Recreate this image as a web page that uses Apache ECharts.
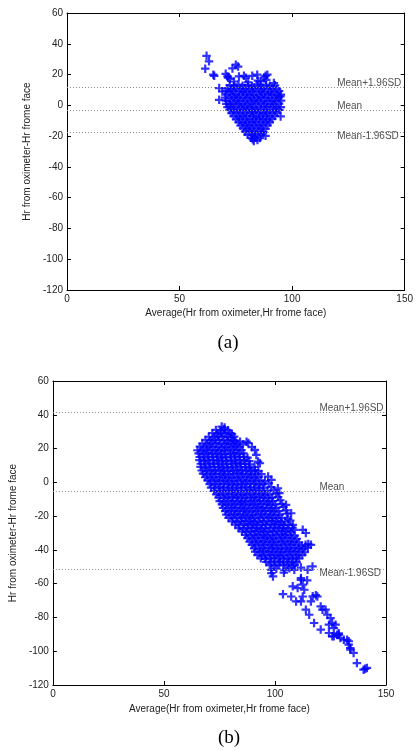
<!DOCTYPE html>
<html>
<head>
<meta charset="utf-8">
<script src="https://cdn.jsdelivr.net/npm/echarts@6/dist/echarts.min.js"></script>
<style>
  html, body { margin: 0; padding: 0; background: #fff; }
  #main { width: 416px; height: 751px; }
</style>
</head>
<body>
<div id="main"></div>
<script>
// (a) dense heart-shaped cluster
const blobA = [
  [72.3,13.2],[74.1,12.6],[76.2,13.5],[78.0,12.8],[80.3,13.1],[82.1,12.4],[84.2,13.6],[86.0,12.9],[88.3,13.3],[90.1,12.7],[92.4,13.0],
  [71.2,11.1],[73.0,10.6],[75.1,11.4],[77.3,10.8],[79.0,11.2],[81.2,10.5],[83.1,11.3],[85.3,10.9],[87.0,11.5],[89.2,10.7],[91.1,11.0],[93.3,10.6],
  [70.4,9.2],[72.2,8.7],[74.0,9.4],[76.3,8.9],[78.1,9.1],[80.0,8.6],[82.3,9.3],[84.1,8.8],[86.2,9.4],[88.0,8.7],[90.3,9.0],[92.1,8.6],[94.2,9.2],
  [71.0,7.1],[73.2,6.6],[75.0,7.3],[77.1,6.8],[79.3,7.2],[81.1,6.5],[83.0,7.0],[85.2,6.7],[87.1,7.4],[89.3,6.9],[91.0,7.1],[93.2,6.6],[95.0,7.0],
  [70.2,5.0],[72.1,4.6],[74.3,5.3],[76.0,4.8],[78.2,5.2],[80.1,4.5],[82.0,5.1],[84.3,4.7],[86.1,5.4],[88.2,4.9],[90.0,5.0],[92.3,4.6],[94.1,5.2],
  [70.6,3.1],[73.0,2.7],[75.2,3.3],[77.0,2.8],[79.1,3.0],[81.3,2.6],[83.2,3.4],[85.0,2.9],[87.3,3.1],[89.1,2.7],[91.2,3.2],[93.0,2.8],[95.1,3.0],
  [70.8,1.0],[72.3,0.6],[74.1,1.3],[76.2,0.8],[78.0,1.1],[80.2,0.5],[82.1,1.2],[84.0,0.7],[86.2,1.4],[88.1,0.9],[90.3,1.0],[92.0,0.6],[94.2,1.1],
  [71.3,-1.1],[73.1,-1.5],[75.0,-0.8],[77.2,-1.3],[79.0,-0.9],[81.2,-1.6],[83.0,-1.0],[85.1,-1.4],[87.3,-0.7],[89.0,-1.2],[91.2,-1.0],[93.1,-1.5],[95.0,-1.1],
  [72.2,-3.0],[74.0,-3.4],[76.1,-2.8],[78.3,-3.2],[80.0,-2.9],[82.2,-3.5],[84.1,-3.1],[86.0,-2.7],[88.2,-3.3],[90.1,-2.9],[92.3,-3.4],[94.4,-3.0],
  [73.1,-5.1],[75.2,-4.7],[77.0,-5.3],[79.1,-4.9],[81.3,-5.2],[83.0,-4.6],[85.2,-5.0],[87.1,-5.4],[89.0,-4.8],[91.2,-5.1],[93.3,-4.7],
  [74.0,-7.0],[76.2,-7.4],[78.1,-6.8],[80.0,-7.2],[82.3,-6.9],[84.1,-7.5],[86.0,-7.1],[88.2,-6.7],[90.1,-7.3],[92.3,-6.9],
  [75.1,-9.1],[77.0,-8.7],[79.2,-9.3],[81.1,-8.9],[83.0,-9.2],[85.3,-8.6],[87.1,-9.0],[89.0,-9.4],[91.2,-8.8],
  [76.2,-11.0],[78.0,-11.4],[80.1,-10.8],[82.2,-11.2],[84.0,-10.7],[86.1,-11.3],[88.3,-10.9],[90.1,-11.1],
  [77.1,-13.1],[79.2,-12.7],[81.0,-13.3],[83.1,-12.9],[85.2,-13.2],[87.0,-12.8],[89.1,-13.0],
  [78.2,-15.0],[80.1,-15.4],[82.0,-14.8],[84.2,-15.2],[86.1,-14.9],[88.2,-15.3],
  [79.1,-17.1],[81.2,-16.7],[83.0,-17.3],[85.1,-16.9],[87.2,-17.2],
  [80.2,-19.0],[82.1,-19.4],[84.0,-18.8],[86.2,-19.2],
  [81.8,-21.1],[83.6,-20.7],[85.7,-21.3],
  [83.0,-23.1],[84.6,-22.6]
];
// (a) loose points around the cluster
const outA = [
  [62.0,32.2],[63.1,28.6],[61.4,23.8],[65.0,19.9],[65.4,19.2],[75.0,26.4],[73.5,24.0],[76.0,25.2],[70.5,20.5],
  [71.6,18.0],[71.3,18.8],[72.4,17.2],[78.6,19.2],[76.4,18.8],[79.5,18.0],[82.3,19.2],[84.5,19.9],[88.2,19.2],
  [89.0,19.9],[86.0,15.5],[87.5,18.0],[91.9,14.5],[67.6,11.2],[67.6,3.6],[69.0,9.0],[74.2,15.5],[80.5,15.0],
  [94.9,-7.2],[94.8,5.8],[88.2,-19.8],[87.0,-17.6],[82.5,-22.0],[88.5,16.5],[84.8,16.0]
];
// (b) main diagonal band
const bandB = [
  [76.0,33.0],[77.3,32.4],
  [73.4,31.0],[75.3,30.6],[77.2,31.3],[78.9,30.8],
  [71.8,29.1],[73.9,28.7],[75.8,29.4],[77.7,28.8],[79.6,29.2],[80.6,28.6],
  [70.2,27.0],[72.3,26.6],[74.4,27.3],[76.3,26.8],[78.4,27.2],[80.3,26.5],[81.6,27.1],
  [68.7,25.1],[70.8,24.7],[72.9,25.3],[74.8,24.9],[76.9,25.2],[78.8,24.6],[80.9,25.0],[82.2,24.5],[84.3,24.1],[87.2,24.1],
  [67.3,23.0],[69.4,22.6],[71.3,23.3],[73.4,22.8],[75.5,23.1],[77.4,22.5],[79.5,23.2],[81.4,22.7],[83.1,23.0],[85.6,22.4],[88.0,23.3],
  [66.2,21.1],[68.1,20.6],[70.2,21.3],[72.1,20.8],[74.2,21.2],[76.1,20.5],[78.2,21.0],[80.1,20.7],[82.2,21.4],[84.0,20.9],[89.6,20.8],
  [65.1,19.0],[67.0,18.6],[69.1,19.3],[71.0,18.8],[73.1,19.2],[75.0,18.5],[77.1,19.1],[79.0,18.7],[81.1,19.4],[83.0,18.9],[84.9,19.1],[90.9,19.2],
  [65.6,17.1],[67.7,16.6],[69.6,17.3],[71.7,16.8],[73.6,17.2],[75.7,16.5],[77.6,17.0],[79.7,16.7],[81.6,17.4],[83.7,16.9],[85.8,17.1],[91.6,16.2],
  [66.1,15.0],[68.2,14.6],[70.1,15.3],[72.2,14.8],[74.1,15.2],[76.2,14.5],[78.1,15.1],[80.2,14.7],[82.1,15.4],[84.2,14.9],[86.1,15.1],[87.6,14.6],
  [66.0,13.1],[68.1,12.6],[70.0,13.3],[72.1,12.8],[74.0,13.2],[76.1,12.5],[78.0,13.0],[80.1,12.7],[82.0,13.4],[84.1,12.9],[86.0,13.1],[88.4,12.6],[92.4,12.3],
  [66.6,11.0],[68.7,10.6],[70.6,11.3],[72.7,10.8],[74.6,11.2],[76.7,10.5],[78.6,11.1],[80.7,10.7],[82.6,11.4],[84.7,10.9],[86.6,11.1],[88.7,10.6],[93.2,11.3],
  [66.5,9.1],[68.4,8.6],[70.5,9.3],[72.4,8.8],[74.5,9.2],[76.4,8.5],[78.5,9.0],[80.4,8.7],[82.5,9.4],[84.4,8.9],[86.5,9.1],[88.4,8.6],[90.8,9.2],
  [67.0,7.0],[69.1,6.6],[71.0,7.3],[73.1,6.8],[75.0,7.2],[77.1,6.5],[79.0,7.1],[81.1,6.7],[83.0,7.4],[85.1,6.9],[87.0,7.1],[89.1,6.6],[91.0,7.2],[92.5,6.8],
  [67.6,5.1],[69.5,4.6],[71.6,5.3],[73.5,4.8],[75.6,5.2],[77.5,4.5],[79.6,5.0],[81.5,4.7],[83.6,5.4],[85.5,4.9],[87.6,5.1],[89.5,4.6],[91.6,5.2],[93.9,4.8],
  [68.6,3.0],[70.7,2.6],[72.6,3.3],[74.7,2.8],[76.6,3.2],[78.7,2.5],[80.6,3.1],[82.7,2.7],[84.6,3.4],[86.7,2.9],[88.6,3.1],[90.7,2.6],[92.6,3.2],[96.9,3.4],
  [69.6,1.1],[71.5,0.6],[73.6,1.3],[75.5,0.8],[77.6,1.2],[79.5,0.5],[81.6,1.0],[83.5,0.7],[85.6,1.4],[87.5,0.9],[89.6,1.1],[91.5,0.6],[93.6,1.2],[95.5,0.8],[98.4,1.5],
  [70.6,-1.0],[72.7,-1.4],[74.6,-0.7],[76.7,-1.2],[78.6,-0.8],[80.7,-1.5],[82.6,-0.9],[84.7,-1.3],[86.6,-0.6],[88.7,-1.1],[90.6,-0.9],[92.7,-1.4],[94.6,-1.0],[97.2,-0.6],
  [71.2,-3.1],[73.1,-3.5],[75.2,-2.8],[77.1,-3.3],[79.2,-2.9],[81.1,-3.6],[83.2,-3.0],[85.1,-3.4],[87.2,-2.7],[89.1,-3.2],[91.2,-3.0],[93.1,-3.5],[95.2,-3.1],[98.3,-2.8],[101.3,-3.5],
  [72.6,-5.0],[74.7,-5.4],[76.6,-4.7],[78.7,-5.2],[80.6,-4.8],[82.7,-5.5],[84.6,-4.9],[86.7,-5.3],[88.6,-4.6],[90.7,-5.1],[92.6,-4.9],[94.7,-5.4],[96.6,-5.0],[99.4,-4.7],
  [73.6,-7.1],[75.5,-7.5],[77.6,-6.8],[79.5,-7.3],[81.6,-6.9],[83.5,-7.6],[85.6,-7.0],[87.5,-7.4],[89.6,-6.7],[91.5,-7.2],[93.6,-7.0],[95.5,-7.5],[97.6,-7.1],[100.4,-6.6],[102.0,-6.4],
  [74.6,-9.0],[76.7,-9.4],[78.6,-8.7],[80.7,-9.2],[82.6,-8.8],[84.7,-9.5],[86.6,-8.9],[88.7,-9.3],[90.6,-8.6],[92.7,-9.1],[94.6,-8.9],[96.7,-9.4],[98.6,-9.0],[101.4,-8.7],
  [75.1,-11.1],[77.2,-11.5],[79.1,-10.8],[81.2,-11.3],[83.1,-10.9],[85.2,-11.6],[87.1,-11.0],[89.2,-11.4],[91.1,-10.7],[93.2,-11.2],[95.1,-11.0],[97.2,-11.5],[99.1,-11.1],[102.4,-10.6],
  [76.1,-13.0],[78.0,-13.4],[80.1,-12.7],[82.0,-13.2],[84.1,-12.8],[86.0,-13.5],[88.1,-12.9],[90.0,-13.3],[92.1,-12.6],[94.0,-13.1],[96.1,-12.9],[98.0,-13.4],[100.1,-13.0],[103.0,-12.7],[105.0,-13.3],
  [76.6,-15.1],[78.7,-15.5],[80.6,-14.8],[82.7,-15.3],[84.6,-14.9],[86.7,-15.6],[88.6,-15.0],[90.7,-15.4],[92.6,-14.7],[94.7,-15.2],[96.6,-15.0],[98.7,-15.5],[100.6,-15.1],[103.8,-14.6],
  [77.6,-17.0],[79.5,-17.4],[81.6,-16.7],[83.5,-17.2],[85.6,-16.8],[87.5,-17.5],[89.6,-16.9],[91.5,-17.3],[93.6,-16.6],[95.5,-17.1],[97.6,-16.9],[99.5,-17.4],[101.6,-17.0],[104.9,-16.6],
  [78.1,-19.1],[80.2,-19.5],[82.1,-18.8],[84.2,-19.3],[86.1,-18.9],[88.2,-19.6],[90.1,-19.0],[92.2,-19.4],[94.1,-18.7],[96.2,-19.2],[98.1,-19.0],[100.2,-19.5],[102.1,-19.1],[105.4,-18.6],[107.3,-18.3],
  [79.1,-21.0],[81.2,-21.4],[83.1,-20.7],[85.2,-21.2],[87.1,-20.8],[89.2,-21.5],[91.1,-20.9],[93.2,-21.3],[95.1,-20.6],[97.2,-21.1],[99.1,-20.9],[101.2,-21.4],[103.1,-21.0],[105.9,-21.6],
  [80.6,-23.1],[82.7,-23.5],[84.6,-22.8],[86.7,-23.3],[88.6,-22.9],[90.7,-23.6],[92.6,-23.0],[94.7,-23.4],[96.6,-22.7],[98.7,-23.2],[100.6,-23.0],[102.7,-23.5],[104.6,-23.1],[106.9,-22.6],
  [82.1,-25.0],[84.0,-25.4],[86.1,-24.7],[88.0,-25.2],[90.1,-24.8],[92.0,-25.5],[94.1,-24.9],[96.0,-25.3],[98.1,-24.6],[100.0,-25.1],[102.1,-24.9],[104.0,-25.4],[106.1,-25.0],[108.0,-25.2],
  [83.6,-27.1],[85.7,-27.5],[87.6,-26.8],[89.7,-27.3],[91.6,-26.9],[93.7,-27.6],[95.6,-27.0],[97.7,-27.4],[99.6,-26.7],[101.7,-27.2],[103.6,-27.0],[105.7,-27.5],[107.9,-26.9],
  [85.1,-29.0],[87.2,-29.4],[89.1,-28.7],[91.2,-29.2],[93.1,-28.8],[95.2,-29.5],[97.1,-28.9],[99.2,-29.3],[101.1,-28.6],[103.2,-29.1],[105.1,-28.9],[107.2,-29.4],[108.7,-28.1],[112.5,-28.1],[113.9,-30.0],
  [86.6,-31.1],[88.5,-31.5],[90.6,-30.8],[92.5,-31.3],[94.6,-30.9],[96.5,-31.6],[98.6,-31.0],[100.5,-31.4],[102.6,-30.7],[104.5,-31.2],[106.6,-31.0],[108.9,-31.5],
  [87.6,-33.0],[89.7,-33.4],[91.6,-32.7],[93.7,-33.2],[95.6,-32.8],[97.7,-33.5],[99.6,-32.9],[101.7,-33.3],[103.6,-32.6],[105.7,-33.1],[107.6,-32.9],[109.8,-33.4],
  [88.6,-35.1],[90.7,-35.5],[92.6,-34.8],[94.7,-35.3],[96.6,-34.9],[98.7,-35.6],[100.6,-35.0],[102.7,-35.4],[104.6,-34.7],[106.7,-35.2],[108.6,-35.0],[110.8,-35.5],[115.0,-36.5],
  [89.6,-37.0],[91.5,-37.4],[93.6,-36.7],[95.5,-37.2],[97.6,-36.8],[99.5,-37.5],[101.6,-36.9],[103.5,-37.3],[105.6,-36.6],[107.5,-37.1],[109.6,-36.9],[112.0,-37.6],[113.8,-37.0],[116.2,-37.0],
  [90.6,-39.1],[92.7,-39.5],[94.6,-38.8],[96.7,-39.3],[98.6,-38.9],[100.7,-39.6],[102.6,-39.0],[104.7,-39.4],[106.6,-38.7],[108.7,-39.2],[110.6,-39.0],[112.7,-39.5],[114.8,-38.7],
  [91.1,-41.0],[93.2,-41.4],[95.1,-40.7],[97.2,-41.2],[99.1,-40.8],[101.2,-41.5],[103.1,-40.9],[105.2,-41.3],[107.1,-40.6],[109.2,-41.1],[111.1,-40.9],[113.4,-41.4],
  [92.1,-43.1],[94.2,-43.5],[96.1,-42.8],[98.2,-43.3],[100.1,-42.9],[102.2,-43.6],[104.1,-43.0],[106.2,-43.4],[108.1,-42.7],[110.2,-43.2],[112.3,-43.0],
  [93.6,-45.0],[95.5,-45.4],[97.6,-44.7],[99.5,-45.2],[101.6,-44.8],[103.5,-45.5],[105.6,-44.9],[107.5,-45.3],[109.6,-44.6],[110.9,-45.1],
  [96.1,-47.1],[98.2,-47.5],[100.1,-46.8],[102.2,-47.3],[104.1,-46.9],[106.2,-47.6],[108.1,-47.0],[109.8,-47.4],
  [97.6,-49.0],[99.7,-49.4],[101.6,-48.7],[103.7,-49.2],[105.6,-48.8],[107.7,-49.5],[108.9,-48.9],
  [98.4,-51.8],[100.6,-51.1],[104.3,-51.8],[106.5,-50.8],[108.7,-51.8],[111.7,-50.5],
  [98.4,-53.7],[99.1,-55.7],[104.0,-53.5],[114.7,-51.8],[116.9,-49.8]
];
// (b) sparse tail towards high averages
const tailB = [
  [103.6,-66.2],[107.3,-67.6],[108.0,-61.6],[110.2,-62.6],[111.7,-56.7],[111.7,-57.7],[114.5,-58.0],[112.5,-60.6],
  [113.2,-63.6],[112.5,-67.6],[111.7,-70.5],[109.5,-70.5],[116.2,-70.5],[119.1,-67.6],[118.4,-66.8],[117.0,-67.5],
  [113.9,-75.4],[115.4,-78.4],[117.6,-83.3],[120.6,-87.2],[120.6,-73.5],[121.4,-75.4],[122.8,-75.4],[123.6,-78.4],
  [125.0,-80.4],[125.8,-83.3],[124.3,-84.3],[127.3,-84.3],[126.5,-86.3],[124.3,-89.2],[126.5,-91.2],[125.8,-91.2],
  [128.0,-90.2],[128.8,-90.2],[129.5,-92.2],[128.7,-89.4],[131.0,-93.2],[132.5,-93.2],[133.2,-94.1],[133.2,-96.1],
  [134.0,-99.0],[133.9,-98.1],[135.4,-101.0],[136.9,-107.0],[139.9,-110.9],[141.4,-109.9],[140.6,-110.4]
];
const meanA = [11.6, -3.1, -17.8];
const meanB = [41.3, -5.2, -51.4];
const lineNames = ['Mean+1.96SD', 'Mean', 'Mean-1.96SD'];
const labelX = 120;
const xTicks = [0, 150, 50];     // min, max, interval
const yTicks = [-120, 60, 20];

const chart = echarts.init(document.getElementById('main'));
// plus-sign marker, slightly heavier stroke so the dense clouds read as solid
const plus = 'path://M3.7,0h2.6v3.7h3.7v2.6h-3.7v3.7h-2.6v-3.7h-3.7v-2.6h3.7z';
const font = 'Liberation Sans';
const ink = '#222';

function xAx(grid, pos, gap) {
  return {
    type: 'value', gridIndex: grid, position: pos,
    min: xTicks[0], max: xTicks[1], interval: xTicks[2],
    name: pos === 'bottom' ? 'Average(Hr from oximeter,Hr frome face)' : '',
    nameLocation: 'middle', nameGap: gap,
    nameTextStyle: { fontFamily: font, fontSize: 10, color: ink },
    axisLine: { show: true, onZero: false, lineStyle: { color: '#000', width: 1 } },
    axisTick: { show: true, inside: true, length: 4, lineStyle: { color: '#000' } },
    axisLabel: { show: pos === 'bottom', margin: 4, fontFamily: font, fontSize: 10, color: ink },
    splitLine: { show: false }
  };
}
function yAx(grid, pos, gap) {
  return {
    type: 'value', gridIndex: grid, position: pos,
    min: yTicks[0], max: yTicks[1], interval: yTicks[2],
    name: pos === 'left' ? 'Hr from oximeter-Hr frome face' : '',
    nameLocation: 'middle', nameGap: gap,
    nameTextStyle: { fontFamily: font, fontSize: 10, color: ink },
    axisLine: { show: true, onZero: false, lineStyle: { color: '#000', width: 1 } },
    axisTick: { show: true, inside: true, length: 4, lineStyle: { color: '#000' } },
    axisLabel: { show: pos === 'left', margin: 4, fontFamily: font, fontSize: 10, color: ink },
    splitLine: { show: false }
  };
}
function refLines(idx, means) {
  return {
    type: 'scatter', xAxisIndex: idx, yAxisIndex: idx, z: 5,
    symbolSize: 0, silent: true,
    data: means.map((m, i) => ({
      value: [labelX, m, lineNames[i]],
      label: { offset: [0, i < 2 ? -4 : 4] }
    })),
    label: {
      show: true, position: 'right', distance: 0,
      formatter: p => p.value[2],
      fontFamily: font, fontSize: 10, color: ink
    },
    markLine: {
      silent: true, symbol: 'none',
      label: { show: false },
      lineStyle: { color: '#8c8c8c', type: [1, 2], width: 1 },
      data: means.map(m => ({ yAxis: m }))
    }
  };
}

chart.setOption({
  animation: false,
  grid: [
    { left: 67, top: 13, width: 339, height: 277 },
    { left: 49, top: 381, width: 337, height: 304 }
  ],
  xAxis: [xAx(0, 'bottom', 18), xAx(0, 'top', 0), xAx(1, 'bottom', 19), xAx(1, 'top', 0)],
  yAxis: [yAx(0, 'left', 25), yAx(0, 'right', 0), yAx(1, 'left', 25), yAx(1, 'right', 0)],
  graphic: [
    { type: 'text', x: 228, y: 343, style: { text: '(a)', font: '19px "Liberation Serif"', fill: '#000', align: 'center', verticalAlign: 'middle' } },
    { type: 'text', x: 229, y: 738, style: { text: '(b)', font: '19px "Liberation Serif"', fill: '#000', align: 'center', verticalAlign: 'middle' } }
  ],
  series: [
    {
      type: 'scatter', xAxisIndex: 0, yAxisIndex: 0,
      symbol: plus, symbolSize: 8.5,
      itemStyle: { color: '#0000ff' },
      data: blobA.concat(outA)
    },
    refLines(0, meanA),
    {
      type: 'scatter', xAxisIndex: 2, yAxisIndex: 2,
      symbol: plus, symbolSize: 8.5,
      itemStyle: { color: '#0000ff' },
      data: bandB.concat(tailB)
    },
    refLines(2, meanB)
  ]
});
</script>
</body>
</html>
